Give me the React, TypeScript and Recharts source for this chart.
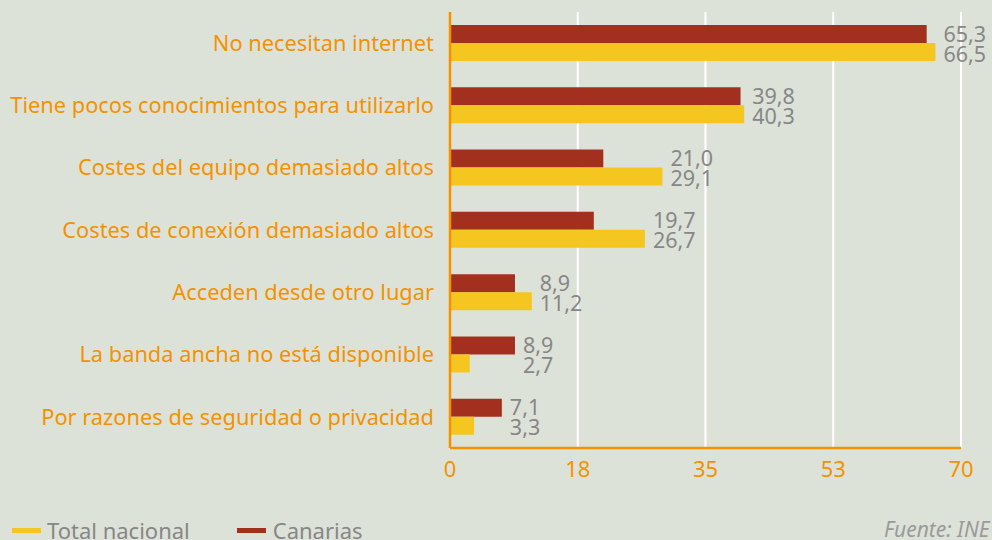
import React from "react";
import { BarChart, Bar, XAxis, YAxis, CartesianGrid, LabelList } from "recharts";

const categories = [
  "No necesitan internet",
  "Tiene pocos conocimientos para utilizarlo",
  "Costes del equipo demasiado altos",
  "Costes de conexión demasiado altos",
  "Acceden desde otro lugar",
  "La banda ancha no está disponible",
  "Por razones de seguridad o privacidad",
];
const canarias = [65.3, 39.8, 21.0, 19.7, 8.9, 8.9, 7.1];
const totalNacional = [66.5, 40.3, 29.1, 26.7, 11.2, 2.7, 3.3];
const xTicks = [0, 17.5, 35, 52.5, 70];

const data = categories.map((name, i) => ({
  name,
  canarias: canarias[i],
  total: totalNacional[i],
  maxv: Math.max(canarias[i], totalNacional[i]),
}));

const ORANGE = "#f39200";
const RED = "#a3301f";
const YELLOW = "#f5c520";
const GREY = "#878787";
const BG = "#dde2d9";
const FONT = "'Noto Sans', sans-serif";

const fmt = (v: number) => v.toFixed(1).replace(".", ",");

const makeLabel = (dy: number) => (props: any) => {
  const { x, y, width, height, value, index } = props;
  const maxv = data[index].maxv;
  const pxPer = value ? width / value : 0;
  const lx = x + maxv * pxPer + 8;
  return (
    <text
      x={lx}
      y={y + height / 2 + dy}
      fill={GREY}
      fontSize={21.5}
      fontFamily={FONT}
      dominantBaseline="central"
      textAnchor="start"
    >
      {fmt(value)}
    </text>
  );
};

export default function App() {
  return (
    <div
      style={{
        position: "fixed",
        left: 0,
        top: 0,
        width: 992,
        height: 540,
        background: BG,
        overflow: "hidden",
        fontFamily: FONT,
      }}
    >
      <BarChart
        width={992}
        height={540}
        data={data}
        layout="vertical"
        margin={{ top: 12, right: 31, left: 0, bottom: 52 }}
        barGap={0}
        barSize={18}
      >
        <CartesianGrid horizontal={false} vertical={true} stroke="#ffffff" strokeWidth={2} />
        <XAxis
          type="number"
          domain={[0, 70]}
          ticks={xTicks}
          tickFormatter={(v: number) => String(Math.round(v))}
          axisLine={{ stroke: ORANGE, strokeWidth: 2.5 }}
          tickLine={false}
          tickSize={0}
          tickMargin={13}
          height={40}
          tick={{ fill: ORANGE, fontSize: 22, fontFamily: FONT }}
        />
        <YAxis
          type="category"
          dataKey="name"
          width={450}
          axisLine={{ stroke: ORANGE, strokeWidth: 2.5 }}
          tickLine={false}
          tickSize={0}
          tickMargin={16}
          interval={0}
          tick={{ fill: ORANGE, fontSize: 21.8, fontFamily: FONT }}
        />
        <Bar dataKey="canarias" fill={RED} isAnimationActive={false}>
          <LabelList dataKey="canarias" content={makeLabel(-1)} />
        </Bar>
        <Bar dataKey="total" fill={YELLOW} isAnimationActive={false}>
          <LabelList dataKey="total" content={makeLabel(1)} />
        </Bar>
      </BarChart>
      <div
        style={{
          position: "absolute",
          left: 12,
          top: 515,
          height: 30,
          display: "flex",
          alignItems: "center",
          fontSize: 22,
          color: GREY,
          whiteSpace: "nowrap",
        }}
      >
        <span style={{ display: "inline-block", width: 29, height: 5, background: YELLOW, marginRight: 6 }} />
        <span>Total nacional</span>
        <span style={{ display: "inline-block", width: 29, height: 5, background: RED, marginLeft: 47, marginRight: 7 }} />
        <span>Canarias</span>
      </div>
      <div
        style={{
          position: "absolute",
          left: 884,
          top: 515,
          fontSize: 21,
          fontStyle: "italic",
          color: "#9a9a9a",
          whiteSpace: "nowrap",
        }}
      >
        Fuente: INE
      </div>
    </div>
  );
}
